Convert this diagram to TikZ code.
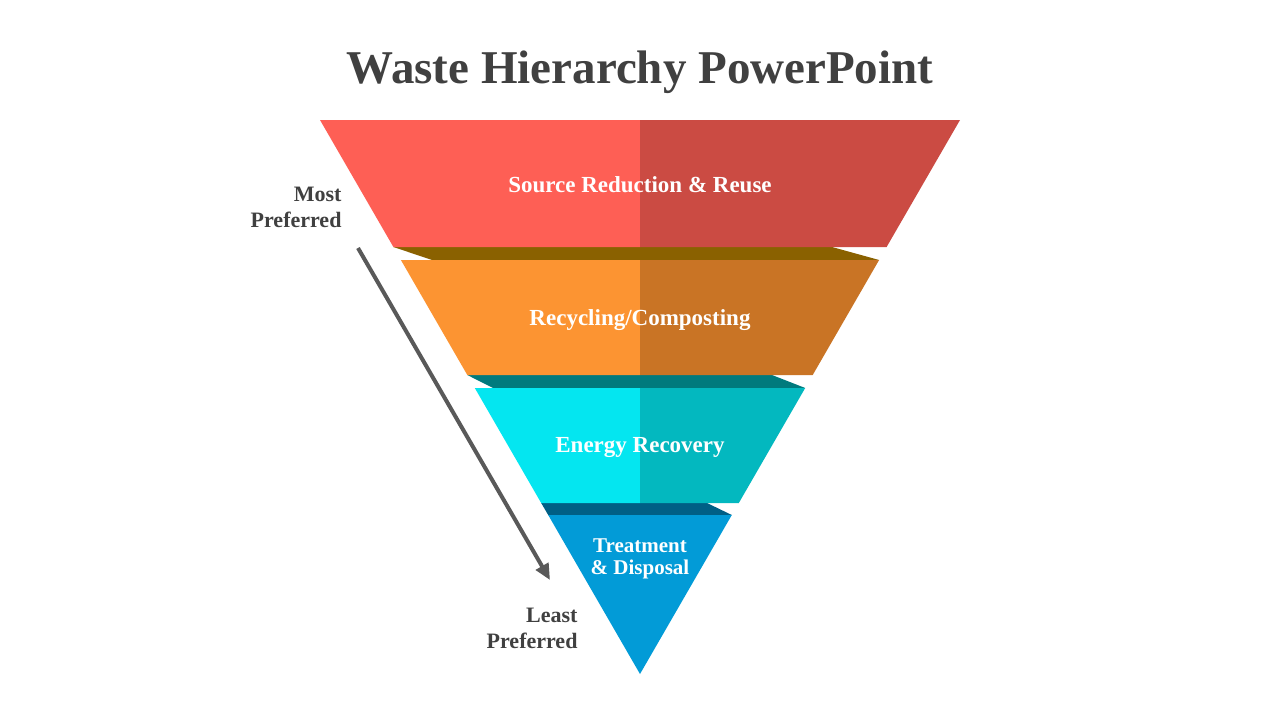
\documentclass[tikz,border=0pt]{standalone}
\usepackage{fontspec}
\setmainfont{Liberation Serif}
\usetikzlibrary{arrows.meta, positioning}
\definecolor{credL}{HTML}{FE5F55}
\definecolor{credR}{HTML}{CB4B43}
\definecolor{cbrown}{HTML}{8A6100}
\definecolor{corangeL}{HTML}{FC9432}
\definecolor{corangeR}{HTML}{C97425}
\definecolor{cteal}{HTML}{007A7D}
\definecolor{ccyanL}{HTML}{04E6F0}
\definecolor{ccyanR}{HTML}{03B8BF}
\definecolor{cnavy}{HTML}{005F85}
\definecolor{cblue}{HTML}{029BD7}
\definecolor{cgrey}{HTML}{404040}
\definecolor{carrow}{HTML}{595959}
\tikzset{
  every picture/.style={x=1pt, y=-1pt},
  level/.style={fill=#1, draw=none},
  label/.style={text=white, font=\fontsize{23}{26}\selectfont\bfseries, align=center},
  side/.style={text=cgrey, font=\fontsize{22}{26}\selectfont\bfseries, align=right},
  title/.style={text=cgrey, font=\fontsize{47}{52}\selectfont\bfseries},
  arrow/.style={-{Triangle[length=16pt, width=14pt]}, draw=carrow, line width=4pt},
}
\begin{document}
\begin{tikzpicture}
  \useasboundingbox[fill=white] (0,0) rectangle (1280,720);
  \node[title] (title) at (640,72) {Waste Hierarchy PowerPoint};
  % shading bands under each level
  \fill[level=cbrown] (393.4,247) -- (832,247) -- (879.1,260) -- (432,260) -- cycle;
  \fill[level=cteal] (467.3,375) -- (772,375) -- (805.2,388) -- (493,388) -- cycle;
  \fill[level=cnavy] (541.2,503) -- (707,503) -- (731.8,515) -- (548.2,515) -- cycle;
  % levels, light left half and dark right half
  \fill[level=credL] (320,120) -- (640,120) -- (640,247) -- (393.4,247) -- cycle;
  \fill[level=credR] (640,120) -- (960,120) -- (886.6,247) -- (640,247) -- cycle;
  \fill[level=corangeL] (400.9,260) -- (640,260) -- (640,375) -- (467.3,375) -- cycle;
  \fill[level=corangeR] (640,260) -- (879.1,260) -- (812.7,375) -- (640,375) -- cycle;
  \fill[level=ccyanL] (474.8,388) -- (640,388) -- (640,503) -- (541.2,503) -- cycle;
  \fill[level=ccyanR] (640,388) -- (805.2,388) -- (738.8,503) -- (640,503) -- cycle;
  \fill[level=cblue] (548.2,515) -- (731.8,515) -- (640,674) -- cycle;
  \node[label] (source) at (640,185) {Source Reduction \& Reuse};
  \node[label] (recycling) at (640,320) {Recycling/Composting};
  \node[label] (energy) at (640,448) {Energy Recovery};
  \node[label, font=\fontsize{21}{22}\selectfont\bfseries] (treatment) at (640,559) {Treatment\\\& Disposal};
  \node[side, anchor=east] (most) at (345,207) {Most\\Preferred};
  \node[side, anchor=east] (least) at (581,628) {Least\\Preferred};
  \coordinate (top) at (358,248);
  \coordinate (bottom) at (550,580);
  \draw[arrow] (top) -- (bottom);
\end{tikzpicture}
\end{document}
